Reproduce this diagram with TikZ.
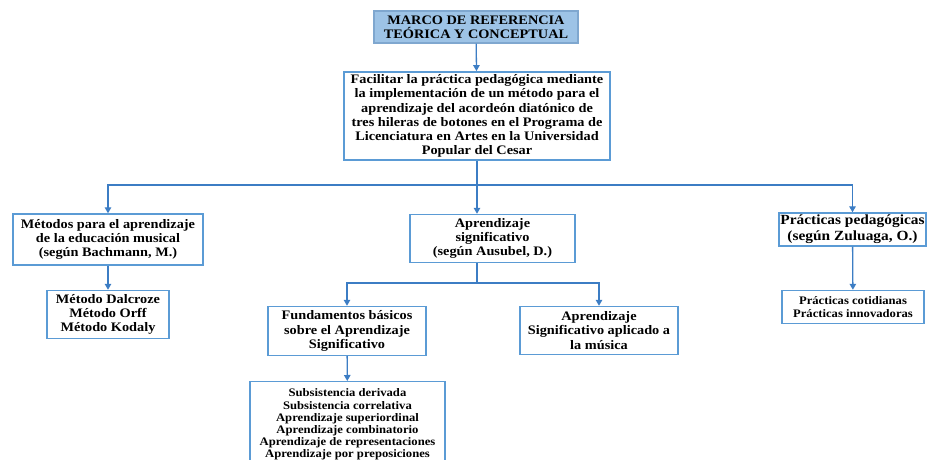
\documentclass[tikz,border=0pt]{standalone}
\usepackage{fontspec}
\setmainfont{Liberation Serif}[FakeStretch=1.1]
\usetikzlibrary{arrows.meta}
\definecolor{boxc}{HTML}{5B9BD5}
\definecolor{linec}{HTML}{3C7DC4}
\definecolor{topfill}{HTML}{9DC3E6}
\definecolor{topdraw}{HTML}{7FA7CF}
\tikzset{
  box/.style={draw=boxc, line width=1.4pt, align=center, inner sep=0pt,
    font=\bfseries\fontsize{13}{14.2}\selectfont},
  conn/.style={draw=linec, line width=1.3pt},
  arr/.style={conn, -{Triangle[length=6pt,width=6.5pt]}}
}
\begin{document}
\begin{tikzpicture}[x=1pt,y=-1pt]
\useasboundingbox (0,0) rectangle (927,460);
\node[box, draw=topdraw, fill=topfill, minimum width=204, minimum height=32] (top) at (476,27) {MARCO DE REFERENCIA\\TEÓRICA Y CONCEPTUAL};
\node[box, line width=1.8pt, minimum width=266, minimum height=88] (main) at (477,116) {Facilitar la práctica pedagógica mediante\\la implementación de un método para el\\aprendizaje del acordeón diatónico de\\tres hileras de botones en el Programa de\\Licenciatura en Artes en la Universidad\\Popular del Cesar};
\node[box, minimum width=190, minimum height=51] (met) at (108,239.5) {Métodos para el aprendizaje\\de la educación musical\\(según Bachmann, M.)};
\node[box, minimum width=165, minimum height=48] (aus) at (492.5,238.5) {Aprendizaje\\significativo\\(según Ausubel, D.)};
\node[box, minimum width=147, minimum height=33, font=\bfseries\fontsize{14}{16}\selectfont] (pra) at (852.5,229.5) {Prácticas pedagógicas\\(según Zuluaga, O.)};
\node[box, minimum width=122, minimum height=48] (dal) at (108,314.5) {Método Dalcroze\\Método Orff\\Método Kodaly};
\node[box, minimum width=158, minimum height=49] (fun) at (347,331) {Fundamentos básicos\\sobre el Aprendizaje\\Significativo};
\node[box, minimum width=158, minimum height=48] (apl) at (599,330.5) {Aprendizaje\\Significativo aplicado a\\la música};
\node[box, minimum width=142, minimum height=33, font=\bfseries\fontsize{11.5}{12.5}\selectfont] (cot) at (853,307) {Prácticas cotidianas\\Prácticas innovadoras};
\node[box, minimum width=195, minimum height=86, anchor=north, font=\bfseries\fontsize{11.5}{12.2}\selectfont] (sub) at (347.5,381) {Subsistencia derivada\\Subsistencia correlativa\\Aprendizaje superiordinal\\Aprendizaje combinatorio\\Aprendizaje de representaciones\\Aprendizaje por preposiciones};
\coordinate (j1) at (477,185);
\coordinate (j2) at (477,283);
\draw[arr] (top) -- (main);
\draw[conn] (main.south) -- (j1);
\draw[arr] (j1) -| (met.north);
\draw[arr] (j1) -| (pra.north);
\draw[arr] (j1) -- (aus.north -| j1);
\draw[arr] (met) -- (dal);
\draw[conn] (aus.south -| j2) -- (j2);
\draw[arr] (j2) -| (fun.north);
\draw[arr] (j2) -| (apl.north);
\draw[arr] (fun) -- (sub);
\draw[arr] (pra) -- (cot);
\end{tikzpicture}
\end{document}
